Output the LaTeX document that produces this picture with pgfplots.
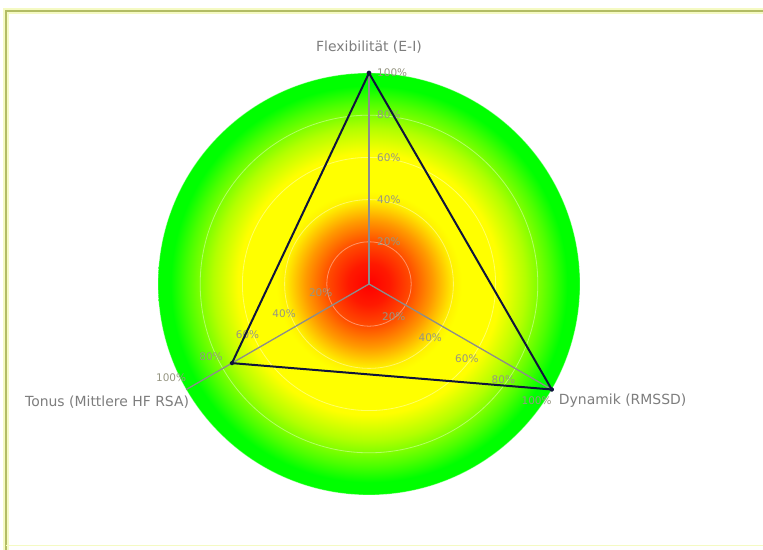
\documentclass[border=0pt]{standalone}
\usepackage{pgfplots}
\pgfplotsset{compat=1.18}
\usepackage{fontspec}
\setmainfont{DejaVu Sans}
\definecolor{lbl}{RGB}{125,125,125}
\definecolor{tick}{RGB}{150,150,130}
\definecolor{spoke}{RGB}{140,140,140}
\definecolor{frameol}{RGB}{178,188,100}
\definecolor{frameglow}{RGB}{245,250,195}
\definecolor{series}{RGB}{15,20,60}
\pgfdeclareradialshading{zone}{\pgfpointorigin}{rgb(0bp)=(1,0,0); rgb(2.5bp)=(1,0.1,0); rgb(5bp)=(1,0.3,0); rgb(7.5bp)=(1,0.6,0); rgb(10bp)=(1,0.95,0); rgb(11bp)=(1,1,0); rgb(15.5bp)=(1,1,0); rgb(18.5bp)=(0.7,1,0); rgb(21.5bp)=(0.3,1,0); rgb(23.5bp)=(0,1,0); rgb(25bp)=(0,1,0); rgb(50bp)=(0,1,0)}
\begin{document}
\begin{tikzpicture}[x=1bp,y=1bp]
\path[use as bounding box] (0,0) rectangle (763,550);
% frame
\draw[line width=6bp, frameglow] (6,0) -- (6,539) -- (763,539);
\draw[line width=2.2bp, frameol] (6,0) -- (6,539) -- (763,539);
\draw[line width=1bp, frameglow] (6,4) -- (763,4);
\begin{axis}[at={(158bp,55bp)}, anchor=south west,
  width=422bp, height=422bp, scale only axis,
  xmin=-100, xmax=100, ymin=-100, ymax=100,
  hide axis, clip=false]
% background gradient disc
\shade[shading=zone] (axis cs:0,0) circle [radius=100];
% grid circles
\pgfplotsinvokeforeach{20,40,60,80,100}{
  \draw[white, opacity=0.4, line width=0.8bp] (axis cs:0,0) circle [radius=#1];
}
% spokes
\draw[spoke, line width=1.3bp] (axis cs:0,0) -- (axis cs:0,100);
\draw[spoke, line width=1.3bp] (axis cs:0,0) -- (axis cs:86.6,-50);
\draw[spoke, line width=1.3bp] (axis cs:0,0) -- (axis cs:-86.6,-50);
% tick labels
\pgfplotsinvokeforeach{20,40,60,80,100}{
  \node[anchor=west, inner sep=0pt, xshift=8bp, font=\fontsize{10.5}{12}\selectfont, text=tick] at (axis cs:0,#1) {#1\%};
  \node[anchor=north east, inner sep=0pt, yshift=-7bp, font=\fontsize{10.5}{12}\selectfont, text=tick] at (axis cs:{0.866*#1},{-0.5*#1}) {#1\%};
  \node[anchor=south east, inner sep=0pt, yshift=8bp, font=\fontsize{10.5}{12}\selectfont, text=tick] at (axis cs:{-0.866*#1},{-0.5*#1}) {#1\%};
}
% data
\addplot[data cs=polar, draw=series, line width=2bp, line join=round,
  mark=*, mark size=1.4bp, mark options={fill=series, draw=series}]
  coordinates {(90,100) (330,100) (210,75) (90,100)};
% axis labels
\node[inner sep=0pt, yshift=26bp, font=\fontsize{14}{16}\selectfont, text=lbl] at (axis cs:0,100) {Flexibilität (E-I)};
\node[anchor=west, inner sep=0pt, xshift=7bp, yshift=-11bp, font=\fontsize{14}{16}\selectfont, text=lbl] at (axis cs:86.6,-50) {Dynamik (RMSSD)};
\node[anchor=east, inner sep=0pt, xshift=3bp, yshift=-13bp, font=\fontsize{14}{16}\selectfont, text=lbl] at (axis cs:-86.6,-50) {Tonus (Mittlere HF RSA)};
\end{axis}
\end{tikzpicture}
\end{document}
